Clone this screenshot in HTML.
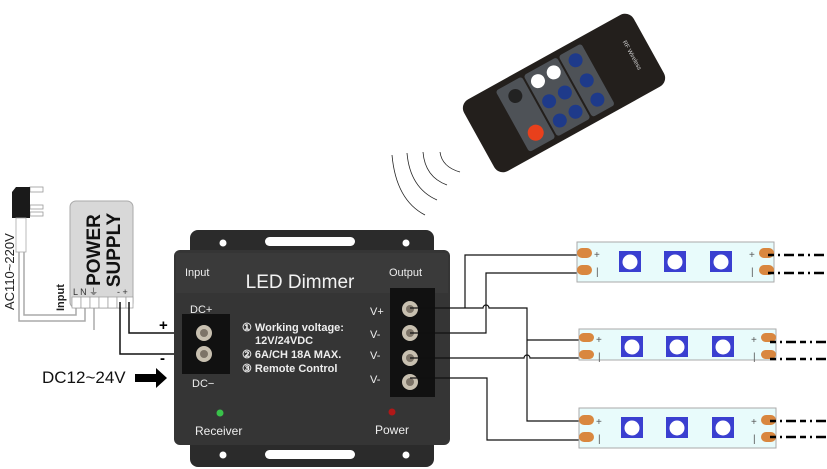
<!DOCTYPE html>
<html><head><meta charset="utf-8"><style>
html,body{margin:0;padding:0;background:#fff;}
svg{display:block;font-family:"Liberation Sans",sans-serif;}
</style></head><body>
<svg width="827" height="469" viewBox="0 0 827 469" xmlns="http://www.w3.org/2000/svg">
<!-- Remote -->
<g transform="rotate(-29 564 93)">
  <rect x="467" y="52" width="194" height="82" rx="10" fill="#231f1c"/>
  <rect x="505" y="58" width="30" height="70" rx="3" fill="#4e5257"/>
  <rect x="537" y="58" width="38" height="70" rx="3" fill="#4e5257"/>
  <rect x="577" y="58" width="26" height="70" rx="3" fill="#4e5257"/>
  <circle cx="520" cy="72" r="7" fill="#222"/>
  <circle cx="520" cy="114" r="8" fill="#e8401c"/>
  <circle cx="547" cy="70" r="7" fill="#fff"/>
  <circle cx="565" cy="70" r="7" fill="#fff"/>
  <circle cx="547" cy="93" r="7" fill="#1e3a8a"/>
  <circle cx="565" cy="93" r="7" fill="#1e3a8a"/>
  <circle cx="547" cy="115" r="7" fill="#1e3a8a"/>
  <circle cx="565" cy="115" r="7" fill="#1e3a8a"/>
  <circle cx="590" cy="70" r="7" fill="#1e3a8a"/>
  <circle cx="590" cy="93" r="7" fill="#1e3a8a"/>
  <circle cx="590" cy="115" r="7" fill="#1e3a8a"/>
  <text x="640" y="93" font-size="6" fill="#ccc" transform="rotate(90 640 93)" text-anchor="middle">RF Wireless</text>
</g>
<!-- waves -->
<g fill="none" stroke="#222" stroke-width="0.8">
  <path d="M392 155 Q396 200 425 215"/>
  <path d="M407 153 Q410 188 437 200"/>
  <path d="M423 152 Q425 177 447 185"/>
  <path d="M440 152 Q442 167 460 172"/>
</g>
<!-- plug -->
<rect x="30" y="187" width="13" height="5" fill="#fff" stroke="#999" stroke-width="0.8"/>
<rect x="30" y="205" width="13" height="4" fill="#fff" stroke="#999" stroke-width="0.8"/>
<rect x="30" y="212" width="13" height="4" fill="#fff" stroke="#999" stroke-width="0.8"/>
<path d="M16 187 L30 187 L30 218 L12 218 L12 192 Z" fill="#1a1a1a"/>
<rect x="16" y="218" width="10" height="34" fill="#fff" stroke="#aaa" stroke-width="0.8"/>
<text x="14" y="310" font-size="13" fill="#222" transform="rotate(-90 14 310)">AC110~220V</text>
<g fill="none" stroke="#aaa" stroke-width="1.5">
  <path d="M24 252 V315 H76 V305"/>
  <path d="M19 252 V321 H85 V305"/>
  <path d="M94 305 V330"/>
</g>
<!-- PSU -->
<rect x="70" y="201" width="63" height="107" rx="6" fill="#d8d8d8" stroke="#aaa"/>
<text x="100" y="250" font-size="19" font-weight="bold" fill="#111" transform="rotate(-90 100 250)" text-anchor="middle">POWER</text>
<text x="120" y="250" font-size="19" font-weight="bold" fill="#111" transform="rotate(-90 120 250)" text-anchor="middle">SUPPLY</text>
<text x="64" y="311" font-size="11" font-weight="bold" fill="#222" transform="rotate(-90 64 311)">Input</text>
<text x="73" y="295" font-size="9" fill="#333">L N ⏚</text>
<text x="117" y="295" font-size="9" fill="#333">-  +</text>
<g fill="#fff" stroke="#999" stroke-width="0.7">
  <rect x="72" y="297" width="9" height="11"/><rect x="81" y="297" width="9" height="11"/><rect x="90" y="297" width="9" height="11"/>
  <rect x="99" y="297" width="9" height="11"/><rect x="108" y="297" width="9" height="11"/><rect x="117" y="297" width="9" height="11"/><rect x="126" y="297" width="7" height="11"/>
</g>
<!-- PSU DC wires -->
<g fill="none" stroke="#111" stroke-width="1.5">
  <path d="M129 302 V333 H205"/>
  <path d="M120 302 V354 H205"/>
</g>
<text x="159" y="330" font-size="15" font-weight="bold">+</text>
<text x="160" y="363" font-size="15" font-weight="bold">-</text>
<text x="42" y="383" font-size="17" fill="#111">DC12~24V</text>
<path d="M135 374 H156 V368 L167 378 L156 388 V382 H135 Z" fill="#000"/>
<!-- controller -->
<rect x="190" y="230" width="244" height="237" rx="8" fill="#2b2b2b"/>
<rect x="174" y="250" width="276" height="195" rx="6" fill="#353535"/>
<rect x="176" y="253" width="272" height="40" fill="#3a3a3a"/>
<circle cx="223" cy="243" r="3.5" fill="#fff"/><circle cx="406" cy="243" r="3.5" fill="#fff"/>
<rect x="265" y="237" width="90" height="9" rx="4.5" fill="#fff"/>
<circle cx="223" cy="455" r="3.5" fill="#fff"/><circle cx="406" cy="455" r="3.5" fill="#fff"/>
<rect x="265" y="450" width="90" height="9" rx="4.5" fill="#fff"/>
<text x="185" y="276" font-size="11" fill="#eee">Input</text>
<text x="300" y="288" font-size="19" fill="#f2f2f2" text-anchor="middle">LED Dimmer</text>
<text x="389" y="276" font-size="11" fill="#eee">Output</text>
<text x="190" y="313" font-size="11" fill="#eee">DC+</text>
<text x="192" y="387" font-size="11" fill="#eee">DC−</text>
<rect x="182" y="314" width="48" height="60" fill="#111"/>
<circle cx="204" cy="333" r="8" fill="#c8c0b0"/><circle cx="204" cy="354" r="8" fill="#c8c0b0"/>
<circle cx="204" cy="333" r="4" fill="#7d7468"/><circle cx="204" cy="354" r="4" fill="#7d7468"/>
<g font-size="11" fill="#eee" font-weight="bold">
<text x="242" y="331">① Working voltage:</text>
<text x="255" y="344">12V/24VDC</text>
<text x="242" y="358">② 6A/CH 18A MAX.</text>
<text x="242" y="372">③ Remote Control</text>
</g>
<g font-size="11" fill="#eee"><text x="370" y="315">V+</text><text x="370" y="338">V-</text><text x="370" y="359">V-</text><text x="370" y="383">V-</text></g>
<rect x="390" y="288" width="45" height="109" fill="#111"/>
<g fill="#c8c0b0"><circle cx="410" cy="309" r="8"/><circle cx="410" cy="333" r="8"/><circle cx="410" cy="358" r="8"/><circle cx="410" cy="382" r="8"/></g>
<g fill="#7d7468"><circle cx="410" cy="309" r="4"/><circle cx="410" cy="333" r="4"/><circle cx="410" cy="358" r="4"/><circle cx="410" cy="382" r="4"/></g>
<circle cx="220" cy="413" r="3.5" fill="#39c24a"/>
<circle cx="392" cy="412" r="3.5" fill="#b01818"/>
<text x="195" y="435" font-size="12" fill="#eee">Receiver</text>
<text x="375" y="434" font-size="12" fill="#eee">Power</text>
<!-- output wires -->
<g fill="none" stroke="#111" stroke-width="1.2">
  <path d="M410 308 H483 A3 3 0 0 1 489 308 H527 V421 H580"/>
  <path d="M465 308 V255 H580"/>
  <path d="M527 340 H580"/>
  <path d="M410 333 H486 V273 H580"/>
  <path d="M410 358 H524 A3 3 0 0 1 530 358 H580"/>
  <path d="M410 378 H487 V440 H580"/>
</g>
<!-- strips -->
<g>
  <rect x="577" y="242" width="197" height="40" fill="#e8fbfb" stroke="#aaa"/>
  <rect x="579" y="329" width="197" height="31" fill="#e8fbfb" stroke="#aaa"/>
  <rect x="579" y="408" width="197" height="40" fill="#e8fbfb" stroke="#aaa"/>
</g>
<g fill="#d9873f">
  <rect x="577" y="248" width="15" height="10" rx="5"/><rect x="577" y="265" width="15" height="10" rx="5"/>
  <rect x="759" y="248" width="15" height="10" rx="5"/><rect x="759" y="265" width="15" height="10" rx="5"/>
  <rect x="579" y="333" width="15" height="9" rx="4.5"/><rect x="579" y="350" width="15" height="9" rx="4.5"/>
  <rect x="761" y="333" width="15" height="9" rx="4.5"/><rect x="761" y="350" width="15" height="9" rx="4.5"/>
  <rect x="579" y="415" width="15" height="10" rx="5"/><rect x="579" y="432" width="15" height="10" rx="5"/>
  <rect x="761" y="415" width="15" height="10" rx="5"/><rect x="761" y="432" width="15" height="10" rx="5"/>
</g>
<g font-size="10" fill="#555">
  <text x="594" y="258">+</text><text x="596" y="275">|</text><text x="749" y="258">+</text><text x="751" y="275">|</text>
  <text x="596" y="343">+</text><text x="598" y="360">|</text><text x="751" y="343">+</text><text x="753" y="360">|</text>
  <text x="596" y="425">+</text><text x="598" y="442">|</text><text x="751" y="425">+</text><text x="753" y="442">|</text>
</g>
<g fill="#3a3fd0">
  <rect x="619" y="251" width="22" height="21"/><rect x="664" y="251" width="22" height="21"/><rect x="710" y="251" width="22" height="21"/>
  <rect x="621" y="336" width="22" height="21"/><rect x="666" y="336" width="22" height="21"/><rect x="712" y="336" width="22" height="21"/>
  <rect x="621" y="417" width="22" height="21"/><rect x="666" y="417" width="22" height="21"/><rect x="712" y="417" width="22" height="21"/>
</g>
<g fill="#fff">
  <circle cx="630" cy="262" r="7.5"/><circle cx="675" cy="262" r="7.5"/><circle cx="721" cy="262" r="7.5"/>
  <circle cx="632" cy="347" r="7.5"/><circle cx="677" cy="347" r="7.5"/><circle cx="723" cy="347" r="7.5"/>
  <circle cx="632" cy="428" r="7.5"/><circle cx="677" cy="428" r="7.5"/><circle cx="723" cy="428" r="7.5"/>
</g>
<g stroke="#000" stroke-width="2.5" stroke-dasharray="6 4 2 4 10 4">
  <path d="M768 255 H827"/><path d="M768 273 H827"/>
  <path d="M770 342 H827"/><path d="M770 359 H827"/>
  <path d="M770 421 H827"/><path d="M770 437 H827"/>
</g>
</svg>
</body></html>
